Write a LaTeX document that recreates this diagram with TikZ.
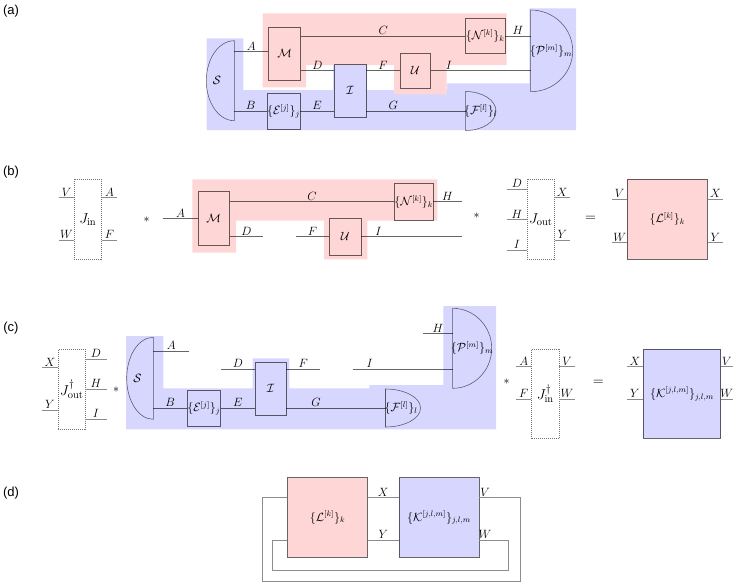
\documentclass[tikz,border=0pt]{standalone}
\usepackage{fontspec}
\newfontfamily\labfont{Liberation Sans}
\usetikzlibrary{calc}
\definecolor{pinkbg}{RGB}{255,214,214}
\definecolor{bluebg}{RGB}{214,214,255}
\tikzset{
 every node/.style={font=\fontsize{11.5}{13}\selectfont},
 blk/.style={draw=black, draw opacity=0.6, line width=0.55pt, inner sep=0pt},
 wire/.style={draw=black, draw opacity=0.6, line width=0.55pt},
 jwire/.style={draw=black!45, line width=0.7pt},
 jbox/.style={draw=black!55, line width=0.5pt, dash pattern=on 1pt off 1pt, inner sep=0pt, font=\fontsize{15}{17}\selectfont},
 wl/.style={above, inner sep=1pt},
 big/.style={font=\fontsize{15}{17}\selectfont},
 sec/.style={font=\labfont\fontsize{13}{15}\selectfont, inner sep=0pt},
 dshape/.style={draw=black, draw opacity=0.6, line width=0.55pt},
}
\begin{document}
\begin{tikzpicture}[x=1pt,y=-1pt]
\useasboundingbox (0,0) rectangle (739,582);

% ---------------- (a) ----------------
\node[sec] (la) at (11,11) {(a)};
\fill[bluebg] (206.7,38.3) -- (243.3,38.3) -- (243.3,90) -- (333,90) -- (333,61) -- (367,61) -- (367,90) -- (447,90) -- (447,83.3) -- (529.3,83.3) -- (529.3,8.3) -- (576,8.3) -- (576,130) -- (206.7,130) -- cycle;
\fill[pinkbg] (262.7,13.3) -- (506.7,13.3) -- (506.7,65) -- (446.7,65) -- (446.7,94.3) -- (394,94.3) -- (394,65) -- (306,65) -- (306,87.3) -- (262.7,87.3) -- cycle;

\node[blk, minimum width=32.4pt, minimum height=52.7pt] (aM) at (284.5,53.7) {$\mathcal{M}$};
\node[blk, minimum width=39.3pt, minimum height=35.3pt] (aN) at (485.3,36) {$\{\mathcal{N}^{[k]}\}_k$};
\node[blk, minimum width=31.7pt, minimum height=53.3pt] (aI) at (350.2,90.7) {$\mathcal{I}$};
\node[blk, minimum width=30.7pt, minimum height=35.7pt] (aU) at (415.3,70.7) {$\mathcal{U}$};
\node[blk, minimum width=31.6pt, minimum height=35.6pt] (aE) at (283.5,111) {$\{\mathcal{E}^{[j]}\}_j$};

\draw[dshape] (234.3,40.7) arc[start angle=90,end angle=270,x radius=28pt,y radius=40pt] -- cycle;
\node (aS) at (217,80.7) {$\mathcal{S}$};
\coordinate (aSa) at (234.3,51.7);
\coordinate (aSb) at (234.3,111);
\draw[dshape] (530.7,10) arc[start angle=90,end angle=-90,x radius=42pt,y radius=40.85pt] -- cycle;
\node (aP) at (551,50.85) {$\{\mathcal{P}^{[m]}\}_m$};
\coordinate (aPh) at (530.7,36);
\coordinate (aPi) at (530.7,70.7);
\draw[dshape] (465.7,91.5) arc[start angle=90,end angle=-90,x radius=30.3pt,y radius=19.5pt] -- cycle;
\node (aF) at (480.5,111) {$\{\mathcal{F}^{[l]}\}_l$};
\coordinate (aFg) at (465.7,111);

\draw[wire] (aSa) -- node[wl]{$A$} (aSa -| aM.west);
\draw[wire] (aSb) -- node[wl]{$B$} (aSb -| aE.west);
\draw[wire] (aM.east |- aN) -- node[wl]{$C$} (aN.west);
\draw[wire] (aN.east) -- node[wl]{$H$} (aPh);
\draw[wire] (aM.east |- aU) -- node[wl]{$D$} (aI.west |- aU);
\draw[wire] (aI.east |- aU) -- node[wl]{$F$} (aU.west);
\draw[wire] (aU.east) -- node[wl,pos=0.18]{$I$} (aPi);
\draw[wire] (aE.east) -- node[wl]{$E$} (aI.west |- aE);
\draw[wire] (aI.east |- aE) -- node[wl,pos=0.27]{$G$} (aFg);

% ---------------- (b) ----------------
\node[sec] (lb) at (11,172) {(b)};
\node[jbox, minimum width=27pt, minimum height=80pt] (bJi) at (87.8,219.3) {$J_{\mathrm{in}}$};
\coordinate (bJiV) at (59,197.7);
\coordinate (bJiW) at (59,240);
\coordinate (bJiA) at (117.3,197.7);
\coordinate (bJiF) at (117.3,240);
\draw[jwire] (bJiV) -- node[wl]{$V$} (bJiV -| bJi.west);
\draw[jwire] (bJiW) -- node[wl]{$W$} (bJiW -| bJi.west);
\draw[jwire] (bJiA -| bJi.east) -- node[wl]{$A$} (bJiA);
\draw[jwire] (bJiF -| bJi.east) -- node[wl]{$F$} (bJiF);
\node (bs1) at (146.7,219.3) {$*$};

\fill[pinkbg] (192.3,179.3) -- (437.3,179.3) -- (437.3,220.7) -- (367.3,220.7) -- (367.3,259.3) -- (324,259.3) -- (324,220.7) -- (236,220.7) -- (236,252.7) -- (192.3,252.7) -- cycle;
\node[blk, minimum width=31.3pt, minimum height=53.3pt] (bM) at (213.7,218.3) {$\mathcal{M}$};
\node[blk, minimum width=37.7pt, minimum height=37pt] (bN) at (413.8,201.7) {$\{\mathcal{N}^{[k]}\}_k$};
\node[blk, minimum width=31.7pt, minimum height=36.7pt] (bU) at (345.2,236.7) {$\mathcal{U}$};
\coordinate (bA) at (163.3,218.3);
\coordinate (bH) at (461.7,201.7);
\coordinate (bD) at (263.3,236.7);
\coordinate (bF) at (296,236.7);
\coordinate (bI) at (461.7,236.7);
\draw[wire] (bA) -- node[wl]{$A$} (bM.west);
\draw[wire] (bM.east |- bN) -- node[wl]{$C$} (bN.west);
\draw[wire] (bN.east) -- node[wl]{$H$} (bH);
\draw[wire] (bM.east |- bD) -- node[wl]{$D$} (bD);
\draw[wire] (bF) -- node[wl]{$F$} (bU.west);
\draw[wire] (bU.east) -- node[wl,pos=0.17]{$I$} (bI);
\node (bs2) at (476.7,216) {$*$};

\node[jbox, minimum width=27pt, minimum height=80pt] (bJo) at (540.8,219.3) {$J_{\mathrm{out}}$};
\coordinate (bJoD) at (506.7,189);
\coordinate (bJoH) at (506.7,219.7);
\coordinate (bJoI) at (506.7,250);
\coordinate (bJoX) at (570,197.7);
\coordinate (bJoY) at (570,240);
\draw[jwire] (bJoD) -- node[wl]{$D$} (bJoD -| bJo.west);
\draw[jwire] (bJoH) -- node[wl]{$H$} (bJoH -| bJo.west);
\draw[jwire] (bJoI) -- node[wl]{$I$} (bJoI -| bJo.west);
\draw[jwire] (bJoX -| bJo.east) -- node[wl]{$X$} (bJoX);
\draw[jwire] (bJoY -| bJo.east) -- node[wl]{$Y$} (bJoY);
\node[big] (beq) at (590.7,219.3) {$=$};

\node[blk, fill=pinkbg, minimum width=80pt, minimum height=80pt] (bL) at (667.3,219.3) {$\{\mathcal{L}^{[k]}\}_k$};
\coordinate (bLV) at (612.3,199.3);
\coordinate (bLW) at (612.3,242.7);
\coordinate (bLX) at (723.3,199.3);
\coordinate (bLY) at (723.3,242.7);
\draw[jwire] (bLV) -- node[wl]{$V$} (bLV -| bL.west);
\draw[jwire] (bLW) -- node[wl]{$W$} (bLW -| bL.west);
\draw[jwire] (bLX -| bL.east) -- node[wl]{$X$} (bLX);
\draw[jwire] (bLY -| bL.east) -- node[wl]{$Y$} (bLY);

% ---------------- (c) ----------------
\node[sec] (lc) at (11,328) {(c)};
\node[jbox, minimum width=26.7pt, minimum height=80pt] (cJo) at (71.7,389.3) {$J^{\dagger}_{\mathrm{out}}$};
\coordinate (cJoX) at (41.7,367.7);
\coordinate (cJoY) at (41.7,410);
\coordinate (cJoD) at (106.7,359.3);
\coordinate (cJoH) at (106.7,389.3);
\coordinate (cJoI) at (106.7,419.3);
\draw[jwire] (cJoX) -- node[wl]{$X$} (cJoX -| cJo.west);
\draw[jwire] (cJoY) -- node[wl]{$Y$} (cJoY -| cJo.west);
\draw[jwire] (cJoD -| cJo.east) -- node[wl]{$D$} (cJoD);
\draw[jwire] (cJoH -| cJo.east) -- node[wl]{$H$} (cJoH);
\draw[jwire] (cJoI -| cJo.east) -- node[wl]{$I$} (cJoI);
\node (cs1) at (116,390) {$*$};

\fill[bluebg] (126,336) -- (163.3,336) -- (163.3,388.3) -- (252.7,388.3) -- (252.7,358.3) -- (289.3,358.3) -- (289.3,388.3) -- (369.3,388.3) -- (369.3,385) -- (443.3,385) -- (443.3,306) -- (496,306) -- (496,429.3) -- (126,429.3) -- cycle;

\draw[dshape] (153.3,337.3) arc[start angle=90,end angle=270,x radius=26.6pt,y radius=41pt] -- cycle;
\node (cS) at (137.5,378.3) {$\mathcal{S}$};
\coordinate (cSa) at (153.3,351);
\coordinate (cSb) at (153.3,408);
\coordinate (cA) at (189.3,351);
\node[blk, minimum width=32.3pt, minimum height=36pt] (cE) at (203.8,408) {$\{\mathcal{E}^{[j]}\}_j$};
\node[blk, minimum width=30.7pt, minimum height=52.7pt] (cI) at (270.7,388.7) {$\mathcal{I}$};
\coordinate (cD) at (220.7,369);
\coordinate (cF) at (320,369);
\draw[dshape] (385.5,389) arc[start angle=90,end angle=-90,x radius=35pt,y radius=19pt] -- cycle;
\node (cFF) at (401,408) {$\{\mathcal{F}^{[l]}\}_l$};
\coordinate (cFg) at (385.5,408);
\draw[dshape] (452.7,308.3) arc[start angle=90,end angle=-90,x radius=39pt,y radius=40pt] -- cycle;
\node (cP) at (472,348.3) {$\{\mathcal{P}^{[m]}\}_m$};
\coordinate (cPh) at (452.7,333.3);
\coordinate (cPi) at (452.7,369);
\coordinate (cH) at (423.3,333.3);
\coordinate (cI0) at (352.7,369);

\draw[wire] (cSa) -- node[wl]{$A$} (cA);
\draw[wire] (cSb) -- node[wl]{$B$} (cE.west);
\draw[wire] (cE.east) -- node[wl]{$E$} (cI.west |- cE);
\draw[wire] (cD) -- node[wl]{$D$} (cI.west |- cD);
\draw[wire] (cI.east |- cF) -- node[wl]{$F$} (cF);
\draw[wire] (cI.east |- cE) -- node[wl,pos=0.3]{$G$} (cFg);
\draw[wire] (cI0) -- node[wl,pos=0.17]{$I$} (cPi);
\draw[wire] (cH) -- node[wl]{$H$} (cPh);
\node (cs2) at (506.7,381.7) {$*$};

\node[jbox, minimum width=27.3pt, minimum height=89pt] (cJi) at (545.3,393.8) {$J^{\dagger}_{\mathrm{in}}$};
\coordinate (cJiA) at (516,366.7);
\coordinate (cJiF) at (516,399.3);
\coordinate (cJiV) at (575,366.7);
\coordinate (cJiW) at (575,399.3);
\draw[jwire] (cJiA) -- node[wl]{$A$} (cJiA -| cJi.west);
\draw[jwire] (cJiF) -- node[wl]{$F$} (cJiF -| cJi.west);
\draw[jwire] (cJiV -| cJi.east) -- node[wl]{$V$} (cJiV);
\draw[jwire] (cJiW -| cJi.east) -- node[wl]{$W$} (cJiW);
\node[big] (ceq) at (598.3,382.7) {$=$};

\node[blk, fill=bluebg, minimum width=77.4pt, minimum height=89pt] (cK) at (682,393.8) {$\{\mathcal{K}^{[j,l,m]}\}_{j,l,m}$};
\coordinate (cKX) at (626.7,366.7);
\coordinate (cKY) at (626.7,399.3);
\coordinate (cKV) at (732.7,366.7);
\coordinate (cKW) at (732.7,399.3);
\draw[jwire] (cKX) -- node[wl]{$X$} (cKX -| cK.west);
\draw[jwire] (cKY) -- node[wl]{$Y$} (cKY -| cK.west);
\draw[jwire] (cKV -| cK.east) -- node[wl]{$V$} (cKV);
\draw[jwire] (cKW -| cK.east) -- node[wl]{$W$} (cKW);

% ---------------- (d) ----------------
\node[sec] (ld) at (11,493) {(d)};
\node[blk, fill=pinkbg, minimum width=79.6pt, minimum height=79.6pt] (dL) at (327.5,517.5) {$\{\mathcal{L}^{[k]}\}_k$};
\node[blk, fill=bluebg, minimum width=79.6pt, minimum height=79.6pt] (dK) at (439,517.5) {$\{\mathcal{K}^{[j,l,m]}\}_{j,l,m}$};
\draw[jwire] ($(dL.north east)!0.25!(dL.south east)$) -- node[wl]{$X$} ($(dK.north west)!0.25!(dK.south west)$);
\draw[jwire] ($(dL.north east)!0.78!(dL.south east)$) -- node[wl]{$Y$} ($(dK.north west)!0.78!(dK.south west)$);
\coordinate (dV) at (262,581);
\coordinate (dW) at (272.3,570);
\draw[jwire] ($(dK.north east)!0.25!(dK.south east)$) -- node[wl,pos=0.15]{$V$} ++(41,0) |- (dV) |- ($(dL.north west)!0.25!(dL.south west)$);
\draw[jwire] ($(dK.north east)!0.78!(dK.south east)$) -- node[wl,pos=0.2]{$W$} ++(29.3,0) |- (dW) |- ($(dL.north west)!0.78!(dL.south west)$);
\end{tikzpicture}
\end{document}
